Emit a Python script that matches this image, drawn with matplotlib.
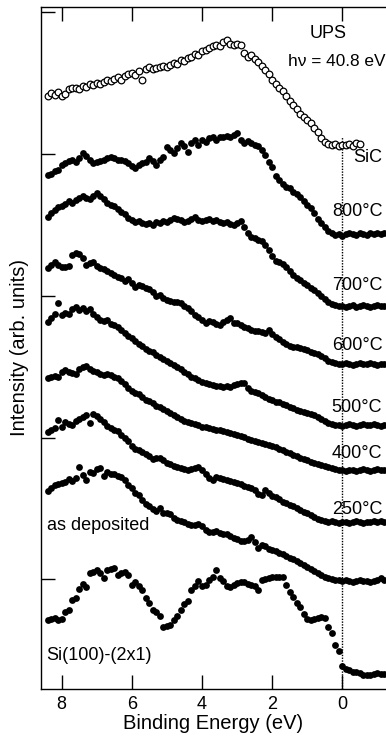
import numpy as np
import matplotlib
matplotlib.use("Agg")
import matplotlib.pyplot as plt

plt.rcParams["font.family"] = ["Liberation Sans", "DejaVu Sans"]

# binding energy grid (eV), 8.4 ... -1.2
energy = np.round(np.arange(8.4, -1.25, -0.1), 1)

# SiC reference (open circles), 8.4 ... -0.5
sic = [
    59.3, 59.6, 59.4, 59.7, 59.3, 59.5, 60.0, 60.1, 60.1, 60.0,
    60.3, 60.2, 60.5, 60.4, 60.6, 60.5, 60.7, 60.9, 60.8, 61.0,
    61.2, 60.9, 61.3, 61.5, 61.6, 61.4, 61.8, 60.9, 62.0, 62.2,
    62.0, 62.1, 62.2, 62.3, 62.2, 62.4, 62.6, 62.5, 62.9, 62.8,
    63.1, 63.2, 63.5, 63.4, 63.8, 63.9, 64.1, 64.3, 64.4, 64.3,
    64.7, 64.9, 64.5, 64.4, 64.5, 64.4, 63.6, 63.2, 63.4, 63.0,
    62.7, 62.3, 61.9, 61.5, 60.9, 60.5, 60.1, 59.8, 59.3, 58.8,
    58.4, 58.0, 57.5, 57.2, 56.9, 56.6, 56.1, 55.7, 55.1, 54.7,
    54.5, 54.4, 54.5, 54.3, 54.4, 54.4, 54.5, 54.3, 54.6, 54.5,
]

t800 = [
    51.4, 51.5, 51.8, 51.9, 52.4, 52.6, 52.8, 52.9, 52.7, 53.1,
    53.6, 53.3, 52.9, 52.6, 52.7, 52.8, 52.9, 53.1, 53.2, 53.1,
    52.9, 52.9, 52.8, 52.6, 52.3, 52.1, 52.4, 52.6, 52.7, 53.1,
    52.8, 52.4, 52.9, 53.2, 54.2, 53.9, 53.6, 54.1, 54.6, 54.3,
    53.7, 54.6, 54.9, 54.4, 54.9, 54.7, 55.1, 55.2, 54.9, 55.2,
    55.2, 55.3, 55.2, 55.4, 55.6, 54.9, 54.6, 54.8, 54.6, 54.4,
    54.3, 53.9, 53.4, 52.7, 52.2, 51.3, 50.9, 50.5, 50.2, 50.1,
    49.7, 49.5, 49.2, 48.8, 48.4, 48.1, 47.6, 47.0, 46.6, 46.2,
    45.8, 45.6, 45.4, 45.5, 45.3, 45.5, 45.6, 45.5, 45.4, 45.6,
    45.5, 45.4, 45.6, 45.5, 45.6, 45.5, 45.6,
]

t700 = [
    47.2, 47.6, 47.9, 48.2, 48.3, 48.5, 48.8, 48.6, 48.9, 49.1,
    49.3, 49.1, 49.0, 49.3, 49.6, 49.3, 49.0, 48.6, 48.4, 48.3,
    48.0, 47.7, 47.5, 47.1, 46.9, 46.7, 46.8, 46.6, 46.5, 46.6,
    46.4, 46.7, 46.6, 46.8, 46.7, 46.9, 47.1, 47.0, 46.9, 46.7,
    46.8, 47.0, 47.2, 46.9, 46.8, 46.9, 47.0, 46.8, 46.9, 46.7,
    46.6, 46.7, 46.5, 46.4, 46.6, 46.8, 46.2, 45.6, 45.2, 45.1,
    44.9, 44.8, 44.4, 43.9, 43.3, 42.8, 42.7, 42.5, 42.2, 41.8,
    41.4, 41.1, 40.9, 40.6, 40.4, 40.1, 39.9, 39.6, 39.3, 39.0,
    38.7, 38.5, 38.4, 38.3, 38.3, 38.2, 38.3, 38.4, 38.2, 38.3,
    38.4, 38.3, 38.2, 38.3, 38.4, 38.3, 38.3,
]

t600 = [
    42.1, 42.4, 42.7, 42.4, 42.2, 42.2, 42.3, 43.4, 43.6, 43.5,
    43.1, 42.4, 42.6, 42.7, 42.3, 42.1, 42.0, 41.8, 41.6, 41.4,
    41.2, 41.1, 40.8, 41.0, 40.6, 40.2, 40.4, 40.3, 40.1, 40.0,
    39.7, 39.3, 39.4, 39.1, 38.9, 38.8, 38.7, 38.7, 38.6, 38.3,
    38.1, 37.8, 37.4, 37.2, 36.9, 36.6, 36.8, 36.7, 36.5, 36.4,
    36.7, 36.9, 37.1, 36.6, 36.6, 36.4, 36.2, 36.1, 35.9, 35.8,
    35.8, 35.7, 35.6, 35.9, 35.5, 35.2, 35.0, 34.7, 34.5, 34.3,
    34.2, 34.2, 34.1, 34.0, 33.9, 33.7, 33.6, 33.5, 33.3, 33.1,
    32.8, 32.7, 32.6, 32.5, 32.5, 32.6, 32.5, 32.4, 32.5, 32.6,
    32.5, 32.5, 32.6, 32.5, 32.4, 32.5, 32.5,
]

t500 = [
    36.7, 37.1, 37.5, 38.6, 37.4, 37.6, 37.5, 38.0, 38.2, 37.9,
    38.1, 37.8, 38.0, 37.5, 37.2, 36.9, 36.8, 36.9, 36.5, 36.4,
    36.2, 35.9, 35.6, 35.3, 35.1, 34.8, 34.5, 34.3, 34.0, 33.8,
    33.7, 33.4, 33.2, 33.0, 32.8, 32.6, 32.4, 32.2, 32.0, 31.7,
    31.5, 31.2, 31.1, 30.9, 30.7, 30.6, 30.5, 30.4, 30.3, 30.3,
    30.2, 30.3, 30.2, 30.4, 30.5, 30.6, 30.6, 30.1, 29.8, 29.7,
    29.6, 29.4, 29.2, 29.0, 28.9, 28.7, 28.7, 28.5, 28.4, 28.2,
    28.1, 27.9, 27.8, 27.7, 27.6, 27.5, 27.4, 27.2, 27.0, 26.8,
    26.6, 26.5, 26.4, 26.4, 26.3, 26.4, 26.5, 26.4, 26.3, 26.4,
    26.5, 26.4, 26.4, 26.5, 26.4, 26.3, 26.4,
]

t400 = [
    31.1, 31.2, 31.3, 31.2, 31.7, 31.9, 31.7, 31.6, 31.5, 32.0,
    32.2, 32.3, 32.0, 31.8, 31.7, 31.5, 31.4, 31.5, 31.4, 31.2,
    31.1, 30.8, 30.5, 30.1, 29.8, 29.6, 29.5, 29.2, 28.9, 28.8,
    28.6, 28.3, 28.2, 28.0, 27.8, 27.6, 27.4, 27.2, 27.0, 26.8,
    26.7, 26.6, 26.5, 26.4, 26.2, 26.2, 26.1, 26.0, 25.9, 25.9,
    25.8, 25.7, 25.6, 25.5, 25.4, 25.3, 25.2, 25.0, 24.9, 24.8,
    24.7, 24.6, 24.5, 24.4, 24.3, 24.2, 24.0, 23.9, 23.7, 23.6,
    23.4, 23.3, 23.1, 23.0, 22.9, 22.7, 22.6, 22.5, 22.4, 22.3,
    22.2, 22.1, 22.0, 21.9, 21.9, 21.8, 21.9, 21.9, 21.8, 21.9,
    22.0, 21.9, 21.8, 21.9, 22.0, 21.9, 21.9,
]

t250 = [
    25.7, 25.9, 26.1, 26.9, 26.2, 26.7, 26.5, 26.4, 26.8, 27.0,
    27.2, 27.4, 26.6, 27.5, 27.3, 27.0, 26.7, 26.3, 26.1, 25.9,
    25.8, 25.4, 25.1, 24.8, 24.3, 24.0, 23.9, 23.7, 23.5, 23.3,
    23.0, 23.1, 23.1, 22.9, 22.6, 22.5, 22.3, 22.2, 22.1, 22.0,
    21.9, 22.0, 22.1, 22.2, 21.9, 21.5, 21.1, 20.9, 21.2, 21.1,
    21.0, 20.9, 20.8, 20.7, 20.6, 20.5, 20.3, 20.2, 20.1, 19.9,
    19.5, 19.4, 19.9, 19.6, 19.3, 19.2, 19.0, 18.7, 18.6, 18.4,
    18.3, 18.1, 17.9, 17.7, 17.6, 17.4, 17.2, 17.0, 16.9, 16.8,
    16.7, 16.8, 16.7, 16.6, 16.7, 16.7, 16.6, 16.7, 16.8, 16.7,
    16.6, 16.7, 16.7, 16.8, 16.7, 16.8, 16.7,
]

as_dep = [
    19.8, 20.1, 20.4, 20.5, 20.6, 20.7, 21.0, 20.8, 21.1, 22.2,
    21.4, 20.9, 21.7, 21.6, 22.0, 22.1, 21.3, 21.7, 21.5, 21.5,
    21.3, 21.2, 20.9, 20.4, 20.1, 19.6, 19.4, 18.9, 18.5, 18.3,
    18.0, 17.8, 18.1, 17.6, 17.6, 17.5, 17.1, 16.9, 16.8, 16.7,
    16.5, 16.4, 16.4, 16.5, 16.3, 15.9, 15.7, 15.7, 15.8, 15.6,
    15.5, 15.5, 15.3, 15.1, 15.0, 14.8, 14.8, 14.9, 15.2, 14.7,
    14.1, 14.4, 14.3, 14.0, 13.9, 13.8, 13.6, 13.5, 13.3, 13.1,
    13.0, 12.8, 12.6, 12.4, 12.2, 12.0, 11.8, 11.6, 11.4, 11.2,
    11.1, 11.0, 10.9, 10.9, 10.8, 10.9, 10.8, 10.7, 10.8, 10.9,
    10.8, 10.8, 10.7, 10.8, 10.9, 11.1, 10.9,
]

si100 = [
    6.9, 7.0, 7.1, 6.9, 7.0, 7.7, 7.9, 8.9, 9.1, 10.0,
    10.5, 10.2, 11.6, 11.7, 11.9, 11.6, 11.1, 11.9, 12.0, 12.1,
    11.4, 11.6, 11.7, 11.4, 10.4, 10.7, 10.3, 9.9, 9.1, 8.6,
    7.9, 7.7, 7.3, 6.2, 6.3, 6.4, 6.9, 7.3, 7.9, 8.5,
    8.8, 9.9, 10.3, 10.8, 10.3, 10.4, 10.9, 11.2, 11.9, 11.1,
    10.8, 10.3, 10.2, 10.4, 10.6, 10.7, 10.7, 10.5, 10.4, 10.3,
    9.9, 10.9, 11.0, 11.1, 11.2, 11.2, 11.2, 11.2, 10.4, 9.7,
    9.2, 8.6, 8.2, 7.5, 7.0, 6.9, 7.0, 7.1, 7.2, 7.1,
    6.2, 5.6, 4.4, 3.8, 2.3, 2.0, 1.9, 1.7, 1.7, 1.6,
    1.4, 1.4, 1.4, 1.5, 1.6, 1.5, 1.5,
]

filled = [t800, t700, t600, t500, t400, t250, as_dep, si100]

# right-hand labels and the height they sit at
temp_labels = ["SiC", "800\u00b0C", "700\u00b0C", "600\u00b0C", "500\u00b0C", "400\u00b0C", "250\u00b0C"]
temp_label_y = [53.1, 47.8, 40.3, 34.3, 28.2, 23.5, 18.0]

fig = plt.figure(figsize=(3.86, 7.40), dpi=100)
ax = fig.add_axes([41 / 386, 51 / 740, 345 / 386, 682 / 740])

ax.plot(energy[:len(sic)], sic, "o", ms=4.8, mfc="white", mec="black", mew=0.9)
for y in filled:
    ax.plot(energy, y, "o", ms=4.9, color="black", mew=0)

ax.plot([0, 0], [0, 55.2], ls=(0, (1, 1)), color="black", lw=1.0, zorder=0)

ax.set_xlim(8.59, -1.246)
ax.set_ylim(0, 68.2)
ax.set_xticks([8, 6, 4, 2, 0])
ax.set_yticks([11.0, 25.1, 39.3, 53.5, 67.7])
ax.set_yticklabels([])
ax.tick_params(axis="both", direction="in", length=10, width=1, labelsize=13, top=True)
ax.tick_params(axis="x", pad=5)
ax.spines["right"].set_visible(False)
for s in ["left", "top", "bottom"]:
    ax.spines[s].set_linewidth(1.0)

ax.set_xlabel("Binding Energy (eV)", fontsize=14.5, labelpad=1)
ax.set_ylabel("Intensity (arb. units)", fontsize=14.5, labelpad=5)

ax.text(0.41, 65.5, "UPS", fontsize=13, ha="center", va="center")
ax.text(-1.22, 62.7, "h\u03bd = 40.8 eV", fontsize=12.4, ha="right", va="center")

for lab, y in zip(temp_labels, temp_label_y):
    ax.text(-1.14, y, lab, fontsize=13, ha="right", va="center")

ax.text(8.43, 16.4, "as deposited", fontsize=13, ha="left", va="center")
ax.text(8.43, 3.3, "Si(100)-(2x1)", fontsize=13, ha="left", va="center")

fig.savefig("out.png", dpi=100)
